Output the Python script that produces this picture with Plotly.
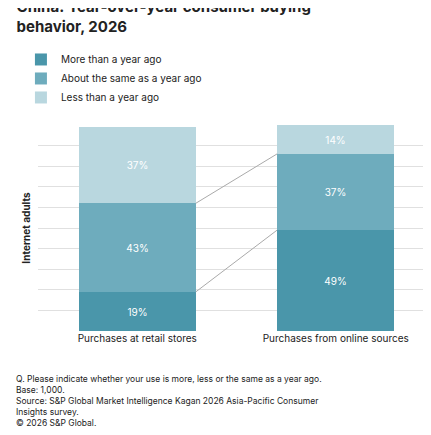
import plotly.graph_objects as go

categories = ["Purchases at retail stores", "Purchases from online sources"]
more = [19, 49]
same = [43, 37]
less = [37, 14]

series = [("More than a year ago", more, "#4a96aa"),
          ("About the same as a year ago", same, "#6eacbd"),
          ("Less than a year ago", less, "#b9d7df")]

x = [0, 1]
w = 0.59
fig = go.Figure()
for name, vals, col in series:
    fig.add_trace(go.Bar(x=x, y=vals, name=name, width=w, marker_color=col,
                         marker_line_width=0, text=[f"{v}%" for v in vals],
                         textposition="inside", insidetextanchor="middle",
                         textfont=dict(color="white", size=10)))

# connector lines between segment tops
cum1 = more
cum2 = [a + b for a, b in zip(more, same)]
for cum in (cum1, cum2):
    fig.add_trace(go.Scatter(x=[w / 2, 1 - w / 2], y=cum, mode="lines",
                             line=dict(color="#aaaaaa", width=1),
                             showlegend=False, hoverinfo="skip"))

fig.update_layout(
    width=431, height=435, barmode="stack", plot_bgcolor="white", paper_bgcolor="white",
    font=dict(family="Inter, Roboto, sans-serif", size=10, color="#222"),
    title=dict(text="<b>China: Year-over-year consumer buying<br>behavior, 2026</b>",
               x=0.02, xanchor="left", yref="container", y=0.99, yanchor="top",
               font=dict(size=15)),
    legend=dict(orientation="h", xref="container", yref="container", x=0.03, y=0.915,
                yanchor="top", xanchor="left", font=dict(size=10), traceorder="normal",
                entrywidth=175, entrywidthmode="pixels"),
    margin=dict(l=30, r=4, t=117, b=112, autoexpand=False),
    uniformtext=dict(mode="show", minsize=10),
    bargap=0,
    showlegend=True,
)
fig.update_xaxes(tickvals=x, ticktext=categories, range=[-0.5, 1.5],
                 showgrid=False, zeroline=False, tickfont=dict(size=10))
fig.update_yaxes(range=[0, 100], dtick=10, showticklabels=False, gridcolor="#e0e0e0",
                 zeroline=False, title=dict(text="<b>Internet adults</b>", font=dict(size=10), standoff=4))
fig.add_annotation(
    text="Q. Please indicate whether your use is more, less or the same as a year ago.<br>"
         "Base: 1,000.<br>Source: S&P Global Market Intelligence Kagan 2026 Asia-Pacific Consumer<br>"
         "Insights survey.<br>© 2026 S&P Global.",
    xref="paper", yref="paper", x=-0.06, y=-0.2, xanchor="left", yanchor="top",
    align="left", showarrow=False, font=dict(size=8.5))
fig.write_html("out.html")
